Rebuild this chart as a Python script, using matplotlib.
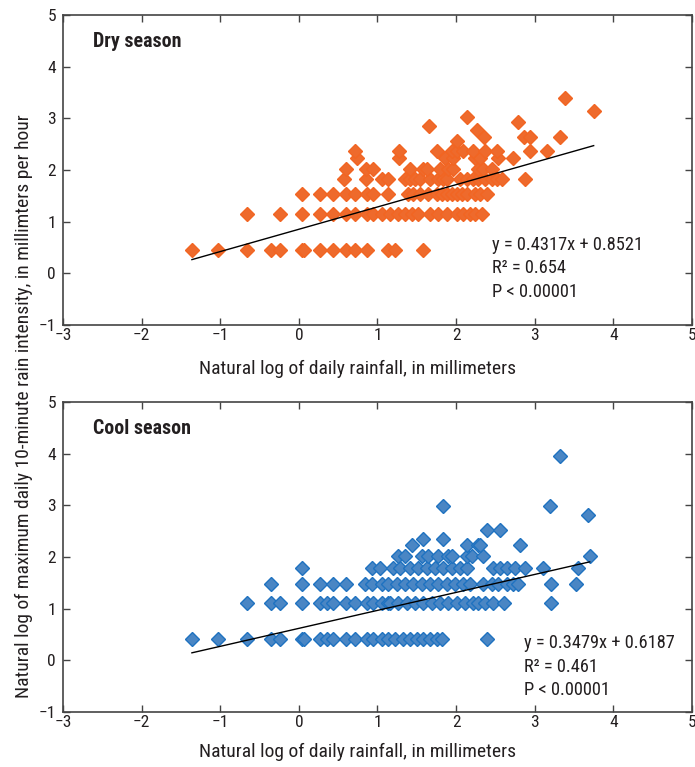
import matplotlib
matplotlib.use("Agg")
import matplotlib.pyplot as plt
from matplotlib import font_manager
import numpy as np

# prefer a narrow sans face for the labels
fonts = font_manager.fontManager.ttflist
names = {f.name for f in fonts}
family = None
for cand in ['Liberation Sans Narrow', 'Roboto Condensed', 'Open Sans Condensed',
             'Noto Sans Condensed', 'Arial Narrow']:
    if cand in names:
        family = cand
        break
stretch = 'normal'
if family is None:
    for f in fonts:
        if f.stretch == 'condensed' or f.stretch == 'semi-condensed':
            family = f.name
            stretch = f.stretch
            break
if family is None:
    family = 'Liberation Sans'
plt.rcParams['font.family'] = [family, 'DejaVu Sans']
plt.rcParams['font.stretch'] = stretch

# Dry season: x values (ln daily rainfall) grouped by intensity level
dry_levels = [0.46, 1.14, 1.53, 1.82, 2.02, 2.24, 2.37]
dry_rows = [
    [-1.36, -1.03, -0.66, -0.35, -0.24, 0.04, 0.07, 0.27, 0.44, 0.60, 0.72, 0.87, 1.13, 1.22, 1.58],
    [-0.66, -0.24, 0.04, 0.27, 0.44, 0.60, 0.72, 0.87, 0.94, 1.06, 1.16, 1.26, 1.35, 1.44, 1.52,
     1.67, 1.77, 1.89, 2.01, 2.09, 2.18, 2.24, 2.33],
    [0.04, 0.27, 0.44, 0.60, 0.72, 0.87, 0.94, 1.13, 1.39, 1.45, 1.54, 1.64, 1.76, 1.82, 1.89,
     1.95, 2.01, 2.08, 2.14, 2.24, 2.31, 2.39],
    [0.58, 0.86, 1.06, 1.13, 1.35, 1.42, 1.48, 1.54, 1.67, 1.77, 1.83, 1.89, 2.05, 2.14, 2.22,
     2.28, 2.37, 2.46, 2.52, 2.58, 2.88],
    [0.60, 0.86, 0.94, 1.41, 1.58, 1.63, 1.80, 1.90, 1.96, 2.28, 2.34, 2.46],
    [0.74, 1.27, 1.86, 1.96, 2.24, 2.31, 2.53, 2.72],
    [0.72, 1.27, 1.76, 1.95, 2.01, 2.09, 2.22, 2.37, 2.52, 2.94, 3.16],
]
dry_extra_x = [2.01, 2.26, 2.35, 2.86, 2.94, 3.32, 2.79, 2.14, 1.65, 3.39, 3.75]
dry_extra_y = [2.56, 2.77, 2.64, 2.64, 2.64, 2.64, 2.93, 3.02, 2.85, 3.40, 3.14]

# Cool season
cool_levels = [0.42, 1.11, 1.48, 1.79, 2.01, 2.23, 2.35, 2.52]
cool_rows = [
    [-1.36, -1.03, -0.66, -0.35, -0.24, 0.04, 0.07, 0.27, 0.36, 0.44, 0.60, 0.72, 0.87, 0.94,
     1.06, 1.13, 1.22, 1.33, 1.41, 1.50, 1.58, 1.67, 1.76, 1.82, 2.39],
    [-0.66, -0.35, -0.24, 0.04, 0.27, 0.36, 0.44, 0.60, 0.72, 0.87, 0.94, 1.06, 1.13, 1.16,
     1.26, 1.38, 1.48, 1.58, 1.69, 1.80, 1.90, 2.01, 2.11, 2.22, 2.28, 2.37, 2.47, 2.61, 3.21],
    [-0.35, 0.04, 0.27, 0.44, 0.60, 0.84, 0.93, 1.06, 1.13, 1.25, 1.35, 1.45, 1.57, 1.67, 1.77,
     1.89, 1.99, 2.09, 2.18, 2.34, 2.46, 2.53, 2.65, 2.73, 2.79, 3.21, 3.53],
    [0.04, 0.93, 1.03, 1.20, 1.29, 1.41, 1.52, 1.63, 1.73, 1.83, 1.95, 2.05, 2.14, 2.47, 2.56,
     2.65, 2.75, 2.88, 3.11, 3.55],
    [1.26, 1.35, 1.57, 1.64, 1.77, 1.90, 1.95, 2.14, 2.20, 2.34, 3.70],
    [1.44, 2.14, 2.28, 2.31, 2.81],
    [1.58, 1.83],
    [2.39, 2.56],
]
cool_extra_x = [3.68, 1.84, 3.20, 3.32]
cool_extra_y = [2.81, 2.98, 2.98, 3.96]

# regression fits
dry_fit = (0.4317, 0.8521, "0.654")
cool_fit = (0.3479, 0.6187, "0.461")

xlabel = "Natural log of daily rainfall, in millimeters"
ylabel = "Natural log of maximum daily 10-minute rain intensity, in millimters per hour"


def flatten(levels, rows, ex, ey):
    xs, ys = [], []
    for lev, row in zip(levels, rows):
        xs += row
        ys += [lev] * len(row)
    return np.array(xs + ex), np.array(ys + ey)


def panel(ax, x, y, fit, title, face, edge):
    ax.plot(x, y, 'D', ms=6.9, mfc=face, mec=edge, mew=1.0, zorder=2)
    slope, icpt, r2 = fit
    xl = np.array([x.min(), x.max()])
    ax.plot(xl, slope * xl + icpt, color='black', lw=1.0, zorder=3)
    ax.set_xlim(-3, 5)
    ax.set_ylim(-1, 5)
    ax.set_xticks(range(-3, 6))
    ax.set_yticks(range(-1, 6))
    ax.tick_params(direction='in', top=True, right=True, length=5, width=1,
                   color='#444444', labelsize=12.5, labelcolor='#231f20')
    ax.tick_params(axis='x', pad=2)
    ax.tick_params(axis='y', pad=5)
    for s in ax.spines.values():
        s.set_color('#444444')
        s.set_linewidth(1.2)
    ax.text(0.048, 0.913, title, transform=ax.transAxes, fontsize=14.3,
            fontweight='bold', va='center', color='#231f20')
    return slope, icpt, r2


fig = plt.figure(figsize=(6.95, 7.67), dpi=100)
ax1 = fig.add_axes([0.0906, 0.5763, 0.905, 0.4042])
ax2 = fig.add_axes([0.0906, 0.0717, 0.905, 0.4042])

dx, dy = flatten(dry_levels, dry_rows, dry_extra_x, dry_extra_y)
cx, cy = flatten(cool_levels, cool_rows, cool_extra_x, cool_extra_y)

s, b, r2 = panel(ax1, dx, dy, dry_fit, "Dry season", '#ee6a2c', '#f26522')
for t, yy in zip([f"y = {s}x + {b}", f"R² = {r2}", "P < 0.00001"], [0.258, 0.184, 0.106]):
    ax1.text(0.682, yy, t, transform=ax1.transAxes, fontsize=13.2, va='center', color='#231f20')

s, b, r2 = panel(ax2, cx, cy, cool_fit, "Cool season", '#4a86c4', '#1f72c0')
for t, yy in zip([f"y = {s}x + {b}", f"R² = {r2}", "P < 0.00001"], [0.222, 0.146, 0.071]):
    ax2.text(0.733, yy, t, transform=ax2.transAxes, fontsize=13.2, va='center', color='#231f20')

fig.text(0.515, 1 - 369 / 767, xlabel, ha='center', va='center', fontsize=14, color='#231f20')
fig.text(0.515, 1 - 752 / 767, xlabel, ha='center', va='center', fontsize=14, color='#231f20')
fig.text(0.034, 0.471, ylabel, rotation=90, ha='center', va='center', fontsize=14,
         color='#231f20')

fig.savefig("out.png", dpi=100)
